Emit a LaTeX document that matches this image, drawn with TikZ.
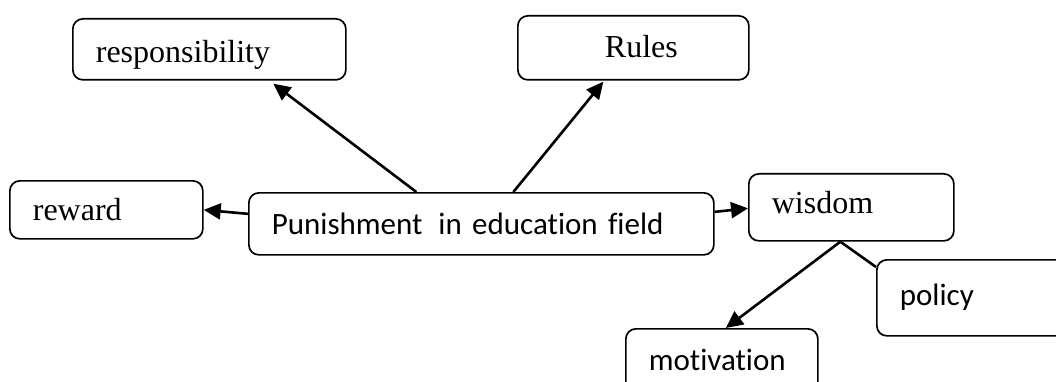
\documentclass[tikz,border=0pt]{standalone}
\usepackage{fontspec}
\setmainfont{Liberation Serif}
\newfontfamily\calibri[Ligatures=NoCommon]{Carlito}
\usepackage{tikz}
\usetikzlibrary{arrows.meta, positioning, calc}

\begin{document}
\begin{tikzpicture}[
    x=1pt, y=-1pt,
    box/.style={rectangle, draw, rounded corners=10pt, line width=1.7pt, anchor=north west,
        inner xsep=23pt, inner ysep=0pt, align=left, font=\fontsize{32}{36}\selectfont},
    sansbox/.style={box, font=\calibri\fontsize{31}{36}\selectfont},
    link/.style={draw, line width=2.6pt, -{Triangle[length=17pt,width=16pt]}},
    plainlink/.style={draw, line width=2.6pt}
]
    \useasboundingbox (0,0) rectangle (1056,382);

    % Nodes
    \node[box, text width=227pt, text height=44pt, text depth=17pt] (resp) at (72,18) {responsibility};
    \node[box, text width=185pt, text height=42pt, text depth=22pt, align=center] (rules) at (517,15) {\hspace*{16pt}Rules};
    \node[box, text width=147pt, text height=40pt, text depth=18pt] (reward) at (9,180) {reward};
    \node[sansbox, text width=419pt, text height=42pt, text depth=20pt] (punish) at (248,192) {Punishment\hspace{16pt}in education field};
    \node[box, text width=159pt, text height=40pt, text depth=27pt] (wisdom) at (748,173) {wisdom};
    \node[sansbox, text width=154pt, text height=46pt, text depth=30pt] (policy) at (876,259) {policy};
    \node[sansbox, text width=146pt, text height=42pt, text depth=25pt] (motiv) at (625,328) {motivation};

    % Connectors
    \draw[link] ([xshift=-65pt]punish.north) -- ([xshift=64pt,yshift=-3pt]resp.south);
    \draw[link] ([xshift=32pt]punish.north) -- ([xshift=-30pt,yshift=-1pt]rules.south);
    \draw[link] ([yshift=10pt]punish.west) -- (reward.east);
    \draw[link] ([yshift=12pt]punish.east) -- ([yshift=-1pt]wisdom.west);
    \draw[link] ([xshift=-11pt]wisdom.south) -- ([xshift=4pt]motiv.north);
    \draw[plainlink] ([xshift=-11pt]wisdom.south) -- ([yshift=-8pt]policy.north west);
\end{tikzpicture}
\end{document}
